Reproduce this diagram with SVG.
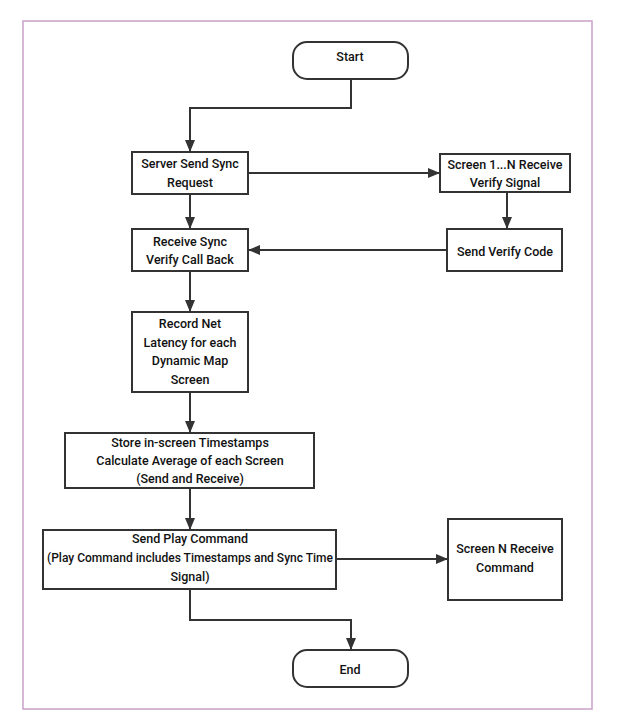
<svg xmlns="http://www.w3.org/2000/svg" width="620" height="718" viewBox="0 0 620 718">
<defs>
<marker id="ah" viewBox="0 0 12 10" refX="12" refY="5" markerWidth="12" markerHeight="10" markerUnits="userSpaceOnUse" orient="auto">
<path d="M0,0 L12,5 L0,10 Z" fill="#333"/>
</marker>
</defs>
<style>
.box{fill:#fff;stroke:#333;stroke-width:2}
.t{font-family:Roboto,"Liberation Sans",sans-serif;font-size:12.5px;font-weight:500;fill:#111;text-anchor:middle;dominant-baseline:central}
.c{fill:none;stroke:#333;stroke-width:2;marker-end:url(#ah)}
</style>
<rect width="620" height="718" fill="#fff"/>
<rect x="23" y="21" width="569" height="688" fill="none" stroke="#c9a0c9" stroke-width="1.5"/>
<g id="connectors">
<path class="c" d="M351,79 V108 H190 V152"/>
<path class="c" d="M248,173 H440"/>
<path class="c" d="M507,192 V229"/>
<path class="c" d="M447,250 H248"/>
<path class="c" d="M190,194 V229"/>
<path class="c" d="M190,271 V312"/>
<path class="c" d="M190,392 V433"/>
<path class="c" d="M190,488 V530"/>
<path class="c" d="M336,559 H448"/>
<path class="c" d="M190,589 V620 H351 V650"/>
</g>
<g id="start">
<rect class="box" x="293" y="42" width="115" height="37" rx="14"/>
<text class="t" x="350" y="56">Start</text>
</g>
<g id="server">
<rect class="box" x="132" y="152" width="116" height="42"/>
<text class="t" x="190" y="163">Server Send Sync</text>
<text class="t" x="190" y="182">Request</text>
</g>
<g id="screen1n">
<rect class="box" x="440" y="154" width="130" height="38"/>
<text class="t" x="505" y="164">Screen 1...N Receive</text>
<text class="t" x="505" y="182">Verify Signal</text>
</g>
<g id="verify">
<rect class="box" x="447" y="229" width="115" height="42"/>
<text class="t" x="505" y="251">Send Verify Code</text>
</g>
<g id="receive">
<rect class="box" x="132" y="229" width="116" height="42"/>
<text class="t" x="190" y="241">Receive Sync</text>
<text class="t" x="190" y="259">Verify Call Back</text>
</g>
<g id="record">
<rect class="box" x="132" y="312" width="116" height="80"/>
<text class="t" x="190" y="323">Record Net</text>
<text class="t" x="190" y="342">Latency for each</text>
<text class="t" x="190" y="360">Dynamic Map</text>
<text class="t" x="190" y="379">Screen</text>
</g>
<g id="store">
<rect class="box" x="65" y="433" width="249" height="55"/>
<text class="t" x="190" y="442">Store in-screen Timestamps</text>
<text class="t" x="190" y="460">Calculate Average of each Screen</text>
<text class="t" x="190" y="478">(Send and Receive)</text>
</g>
<g id="play">
<rect class="box" x="43" y="530" width="293" height="59"/>
<text class="t" x="190" y="538">Send Play Command</text>
<text class="t" x="190" y="557" textLength="286" lengthAdjust="spacingAndGlyphs">(Play Command includes Timestamps and Sync Time</text>
<text class="t" x="190" y="576">Signal)</text>
</g>
<g id="screenN">
<rect class="box" x="448" y="519" width="114" height="81"/>
<text class="t" x="505" y="548">Screen N Receive</text>
<text class="t" x="505" y="567">Command</text>
</g>
<g id="end">
<rect class="box" x="293" y="650" width="115" height="37" rx="14"/>
<text class="t" x="350" y="669">End</text>
</g>
</svg>
